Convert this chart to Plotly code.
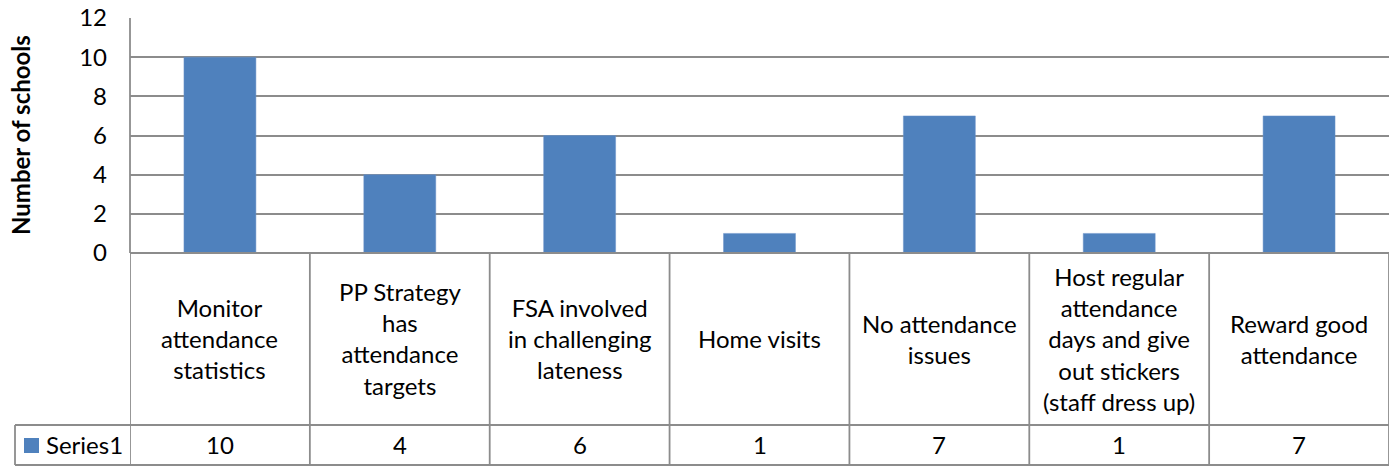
import plotly.graph_objects as go

# ---- data ----
categories = [
    "Monitor attendance statistics",
    "PP Strategy has attendance targets",
    "FSA involved in challenging lateness",
    "Home visits",
    "No attendance issues",
    "Host regular attendance days and give out stickers (staff dress up)",
    "Reward good attendance",
]
category_labels = [
    "Monitor<br>attendance<br>statistics",
    "PP Strategy<br>has<br>attendance<br>targets",
    "FSA involved<br>in challenging<br>lateness",
    "Home visits",
    "No attendance<br>issues",
    "Host regular<br>attendance<br>days and give<br>out stickers<br>(staff dress up)",
    "Reward good<br>attendance",
]
series_name = "Series1"
values = [10, 4, 6, 1, 7, 1, 7]
y_ticks = [0, 2, 4, 6, 8, 10, 12]
y_title = "Number of schools"

# ---- layout geometry (pixels) ----
W, H = 1398, 467
L, R, T, B = 130, 9, 18, 214
plot_w = W - L - R
plot_h = H - T - B
bottom_px = H - B  # y pixel of value 0


def px_x(px):
    return (px - L) / plot_w


def px_y(py):
    return (bottom_px - py) / plot_h


BAR = "#4F81BD"
LINE = "#8C8C8C"
FONT = "Lato"
TXT = "#000000"

fig = go.Figure()
fig.add_trace(go.Bar(
    x=categories, y=values, name=series_name,
    marker=dict(color=BAR, line=dict(color="#6A93C8", width=0.5)),
    width=0.4, showlegend=False,
))

row1_bottom = 425
row2_bottom = 465
table_left = 15
n = len(categories)
LW = 1.8

shapes = []
# horizontal table lines
shapes.append(dict(type="line", xref="paper", yref="paper",
                   x0=px_x(table_left), x1=1, y0=px_y(row1_bottom), y1=px_y(row1_bottom),
                   line=dict(color=LINE, width=LW)))
shapes.append(dict(type="line", xref="paper", yref="paper",
                   x0=px_x(table_left), x1=1, y0=px_y(row2_bottom), y1=px_y(row2_bottom),
                   line=dict(color=LINE, width=LW)))
shapes.append(dict(type="line", xref="paper", yref="paper",
                   x0=0, x1=1, y0=0, y1=0, line=dict(color=LINE, width=LW)))
# vertical table lines
for i in range(n + 1):
    shapes.append(dict(type="line", xref="x", yref="paper",
                       x0=i - 0.5, x1=i - 0.5, y0=0, y1=px_y(row2_bottom),
                       line=dict(color=LINE, width=LW)))
shapes.append(dict(type="line", xref="paper", yref="paper",
                   x0=px_x(table_left), x1=px_x(table_left),
                   y0=px_y(row1_bottom), y1=px_y(row2_bottom),
                   line=dict(color=LINE, width=LW)))
# legend key
shapes.append(dict(type="rect", xref="paper", yref="paper",
                   x0=px_x(24), x1=px_x(39), y0=px_y(453), y1=px_y(438),
                   fillcolor=BAR, line=dict(width=0)))
# y axis line
shapes.append(dict(type="line", xref="paper", yref="paper",
                   x0=0, x1=0, y0=0, y1=1, line=dict(color=LINE, width=LW)))

annotations = []
for cat, lab, v in zip(categories, category_labels, values):
    annotations.append(dict(x=cat, xref="x", y=px_y((bottom_px + row1_bottom) / 2), yref="paper",
                            text=lab, showarrow=False, xanchor="center", yanchor="middle",
                            font=dict(family=FONT, size=24, color=TXT), align="center"))
    annotations.append(dict(x=cat, xref="x", y=px_y((row1_bottom + row2_bottom) / 2), yref="paper",
                            text=str(v), showarrow=False, xanchor="center", yanchor="middle",
                            font=dict(family=FONT, size=24, color=TXT)))
annotations.append(dict(x=px_x(44), xref="paper", y=px_y(445), yref="paper",
                        text=series_name, showarrow=False, xanchor="left", yanchor="middle",
                        font=dict(family=FONT, size=24, color=TXT)))
annotations.append(dict(x=px_x(20), xref="paper", y=px_y(135), yref="paper",
                        text="<b>" + y_title + "</b>", textangle=-90, showarrow=False,
                        xanchor="center", yanchor="middle",
                        font=dict(family=FONT, size=24, color=TXT)))

fig.update_layout(
    width=W, height=H,
    margin=dict(l=L, r=R, t=T, b=B, autoexpand=False),
    paper_bgcolor="white", plot_bgcolor="white",
    shapes=shapes, annotations=annotations,
    bargap=0.6,
    xaxis=dict(showticklabels=False, showgrid=False, zeroline=False, showline=False,
               range=[-0.5, n - 0.5], fixedrange=True),
    yaxis=dict(range=[0, 12], tickvals=y_ticks, ticktext=[str(t) for t in y_ticks],
               showgrid=True, gridcolor=LINE, gridwidth=LW, zeroline=False, showline=False,
               ticks="", ticklabelstandoff=22,
               tickfont=dict(family=FONT, size=24, color=TXT)),
    showlegend=False,
)

fig.write_html("out.html")
